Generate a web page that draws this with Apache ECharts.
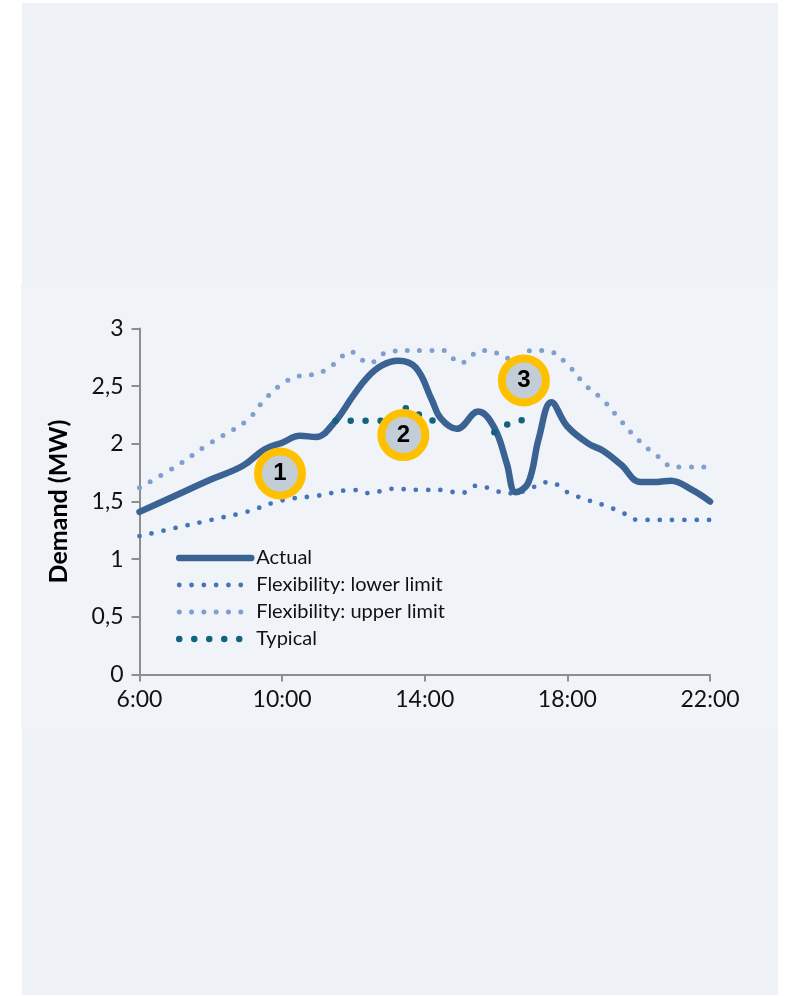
<!DOCTYPE html>
<html>
<head>
<meta charset="utf-8">
<script src="https://cdn.jsdelivr.net/npm/echarts@6/dist/echarts.min.js"></script>
<style>
html,body{margin:0;padding:0;background:#ffffff;}
#chart{width:785px;height:996px;}
</style>
</head>
<body>
<div id="chart"></div>
<script>
// ---- Data (hours of day, demand in MW) ----
const xTicks = [6, 10, 14, 18, 22];
const yTicks = [0, 0.5, 1, 1.5, 2, 2.5, 3];

const actualHours = [6, 7, 8, 8.9, 9.5, 10, 10.5, 10.95, 11.45, 12, 12.4, 12.8, 13.25, 13.75, 14.2, 14.45, 14.9, 15.5, 15.95, 16.3, 16.55, 16.9, 17.2, 17.55, 18, 18.6, 19, 19.5, 20.05, 20.5, 20.9, 21.5, 22];
const actualMW    = [1.41, 1.55, 1.69, 1.81, 1.95, 2.01, 2.07, 2.06, 2.18, 2.42, 2.58, 2.68, 2.72, 2.66, 2.38, 2.22, 2.13, 2.28, 2.14, 1.83, 1.58, 1.66, 2.05, 2.36, 2.15, 2.00, 1.94, 1.82, 1.67, 1.67, 1.68, 1.60, 1.50];

const lowerHours = [6, 7, 8, 9, 10, 11, 12, 12.5, 13, 14, 14.5, 15, 15.5, 16, 16.5, 17, 17.5, 18, 18.5, 19, 19.5, 20, 21, 22];
const lowerMW    = [1.20, 1.27, 1.34, 1.41, 1.51, 1.55, 1.60, 1.57, 1.61, 1.60, 1.60, 1.57, 1.64, 1.59, 1.57, 1.62, 1.67, 1.58, 1.52, 1.47, 1.41, 1.34, 1.34, 1.34];

const upperHours = [6, 7, 8, 9, 9.5, 10, 10.5, 11, 11.5, 11.9, 12.45, 13, 14, 14.5, 15, 15.6, 16, 16.5, 17, 17.5, 18, 18.5, 19, 19.5, 20, 20.5, 21, 22];
const upperMW    = [1.62, 1.80, 2.01, 2.20, 2.38, 2.52, 2.59, 2.61, 2.70, 2.80, 2.70, 2.80, 2.81, 2.81, 2.70, 2.81, 2.79, 2.73, 2.81, 2.80, 2.69, 2.51, 2.38, 2.20, 2.03, 1.90, 1.80, 1.80];

const typicalHours = [11.5, 12, 12.5, 13, 13.5, 14, 14.25, 15, 15.95, 16.4, 16.82];
const typicalMW    = [2.2, 2.2, 2.2, 2.2, 2.31, 2.22, 2.2, null, 2.10, 2.18, 2.21];

const markerLabels = ['1', '2', '3'];
const markerHours  = [9.94, 13.40, 16.78];
const markerMW     = [1.743, 2.076, 2.55];

const seriesNames = ['Actual', 'Flexibility: lower limit', 'Flexibility: upper limit', 'Typical'];

// ---- helpers ----
const zip = (xs, ys) => xs.map((x, i) => [x, ys[i] === null ? '-' : ys[i]]);
const fmtY = v => String(v).replace('.', ',');

const FONT = 'Lato';
const chart = echarts.init(document.getElementById('chart'), null, {renderer: 'canvas'});

const option = {
  backgroundColor: '#ffffff',
  animation: false,
  graphic: [
    {type: 'rect', z: -10, shape: {x: 22, y: 3, width: 756, height: 992}, style: {fill: '#eff3f7'}},
    {type: 'rect', z: -9, shape: {x: 21, y: 284, width: 757, height: 445}, style: {fill: '#f0f4f8'}}
  ],
  grid: {left: 139.5, right: 75, top: 328.5, bottom: 321.5, containLabel: false},
  legend: {
    orient: 'vertical',
    left: 176,
    top: 548,
    padding: 0,
    itemWidth: 72,
    itemHeight: 14,
    itemGap: 7,
    data: seriesNames,
    lineStyle: {width: 'inherit'},
    itemStyle: {opacity: 0},
    textStyle: {fontFamily: FONT, fontSize: 20, color: '#111', padding: [0, 0, 0, 0]}
  },
  xAxis: {
    type: 'value',
    min: xTicks[0],
    max: xTicks[xTicks.length - 1],
    interval: 4,
    axisLine: {lineStyle: {color: '#8e8e8e', width: 2}},
    axisTick: {show: true, inside: false, length: 7, lineStyle: {color: '#8e8e8e', width: 2}},
    splitLine: {show: false},
    axisLabel: {
      margin: 14,
      fontFamily: FONT, fontSize: 23, color: '#111',
      formatter: v => v + ':00'
    }
  },
  yAxis: {
    type: 'value',
    min: yTicks[0],
    max: yTicks[yTicks.length - 1],
    interval: 0.5,
    name: 'Demand (MW)',
    nameLocation: 'middle',
    nameGap: 68,
    nameTextStyle: {fontFamily: FONT, fontSize: 25, fontWeight: 'bold', color: '#000'},
    axisLine: {show: true, lineStyle: {color: '#8e8e8e', width: 2}},
    axisTick: {show: true, inside: false, length: 8, lineStyle: {color: '#8e8e8e', width: 2}},
    splitLine: {show: false},
    axisLabel: {
      margin: 16,
      fontFamily: FONT, fontSize: 23, color: '#111',
      formatter: v => fmtY(v)
    }
  },
  series: [
    {
      name: seriesNames[1], type: 'line', smooth: 0.4, symbol: 'none', z: 2,
      data: zip(lowerHours, lowerMW),
      lineStyle: {color: '#4674b5', width: 4.8, type: [0, 12.3], cap: 'round'},
      itemStyle: {color: '#4674b5'}
    },
    {
      name: seriesNames[2], type: 'line', smooth: 0.4, symbol: 'none', z: 2,
      data: zip(upperHours, upperMW),
      lineStyle: {color: '#809fcf', width: 5, type: [0, 12.3], cap: 'round'},
      itemStyle: {color: '#809fcf'}
    },
    {
      name: seriesNames[0], type: 'line', smooth: 0.4, symbol: 'none', z: 3,
      data: zip(actualHours, actualMW),
      lineStyle: {color: '#3a6293', width: 6.5, cap: 'round', join: 'round'},
      itemStyle: {color: '#3a6293'}
    },
    {
      name: seriesNames[3], type: 'line', smooth: 0.4, symbol: 'none', z: 4,
      connectNulls: false,
      data: zip(typicalHours, typicalMW),
      lineStyle: {color: '#11637f', width: 6.5, type: [0, 15], cap: 'round'},
      itemStyle: {color: '#11637f'}
    },
    {
      name: 'markers', type: 'scatter', z: 10,
      symbol: 'circle', symbolSize: 44,
      data: markerHours.map((h, i) => ({value: [h, markerMW[i]], label: {formatter: markerLabels[i]}})),
      itemStyle: {color: '#c3cdd8', borderColor: '#ffc000', borderWidth: 8, opacity: 1},
      label: {show: true, position: 'inside', fontFamily: 'Liberation Sans', fontWeight: 'bold', fontSize: 24, color: '#000'},
      emphasis: {disabled: true}
    }
  ]
};
chart.setOption(option);
</script>
</body>
</html>
